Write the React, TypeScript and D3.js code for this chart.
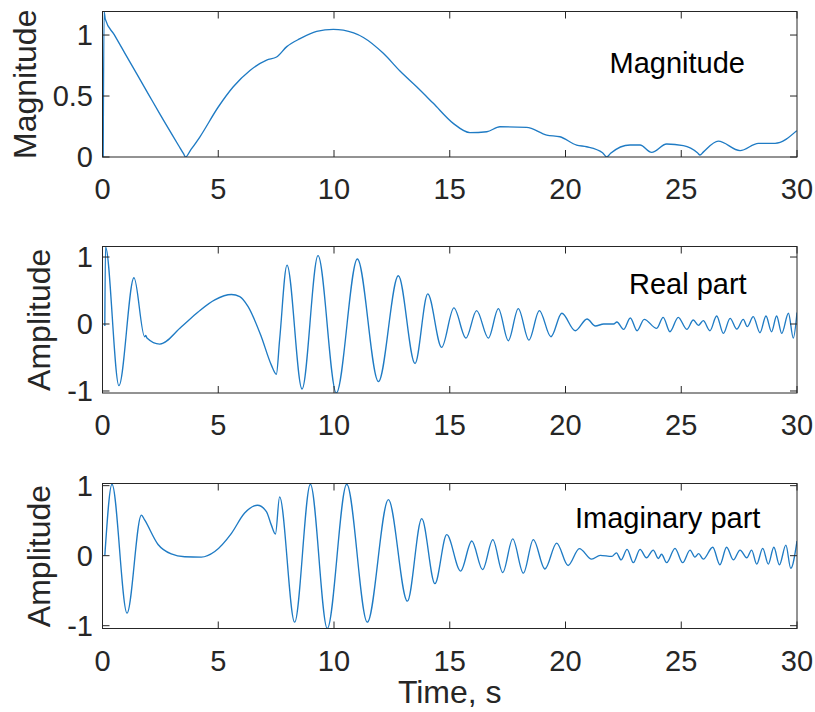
import React from "react";
import * as d3 from "d3";

// ---- Data ----
const timeTicks = [0, 5, 10, 15, 20, 25, 30];
const magnitudeTicks = [0, 0.5, 1];
const amplitudeTicks = [-1, 0, 1];

const magnitude: [number, number][] = [
  [0.03, 0], [0.07, 1.19], [0.12, 1.13], [0.5, 1.005], [1.0, 0.84], [2.0, 0.51], [2.5, 0.345],
  [3.3, 0.09], [3.5, 0.027], [3.59, 0.0], [3.8, 0.055], [4.21, 0.166], [5.0, 0.41], [5.65, 0.576],
  [6.37, 0.71], [7.09, 0.795], [7.52, 0.82], [7.96, 0.905], [8.53, 0.97], [9.25, 1.03], [9.97, 1.047],
  [10.4, 1.04], [11.27, 0.98], [12.13, 0.85], [12.85, 0.705], [13.57, 0.576], [14.29, 0.44],
  [15.15, 0.276], [15.87, 0.2], [16.6, 0.207], [17.17, 0.248], [18.32, 0.243], [19.19, 0.18],
  [19.76, 0.166], [20.48, 0.098], [20.91, 0.084], [21.6, 0.035], [21.78, 0.0], [21.95, 0.03],
  [22.79, 0.098], [23.22, 0.098], [23.72, 0.038], [24.37, 0.107], [25.09, 0.093], [25.7, 0.035],
  [25.81, 0.016], [25.95, 0.04], [26.6, 0.13], [27.54, 0.052], [28.33, 0.112], [29.05, 0.112],
  [29.99, 0.216],
];

const realPart: [number, number][] = [
  [0.1, -0.03], [0.13, 1.15], [0.71, -0.92], [1.36, 0.69], [1.82, -0.19], [1.87, -0.17], [1.92, -0.21],
  [2.47, -0.3], [3.41, -0.04], [4.13, 0.18], [4.85, 0.36], [5.57, 0.44], [5.93, 0.41], [6.29, 0.26],
  [6.86, -0.19], [7.29, -0.61], [7.51, -0.75], [7.65, -0.24], [7.97, 0.88], [8.62, -0.97], [9.31, 1.02],
  [10.1, -1.03], [11.01, 0.97], [11.92, -0.86], [12.78, 0.72], [13.5, -0.59], [14.05, 0.45],
  [14.65, -0.35], [15.18, 0.24], [15.7, -0.21], [16.16, 0.2], [16.67, -0.21], [17.1, 0.23],
  [17.53, -0.25], [17.96, 0.23], [18.42, -0.24], [18.87, 0.2], [19.37, -0.19], [19.84, 0.16],
  [20.42, -0.1], [20.93, 0.075], [21.29, -0.03], [21.65, 0.0], [22.08, 0.0], [22.22, 0.03],
  [22.51, -0.08], [22.8, 0.09], [23.09, -0.1], [23.4, 0.07], [23.94, -0.065], [24.22, 0.1],
  [24.51, -0.115], [24.87, 0.1], [25.24, -0.08], [25.52, 0.06], [25.74, -0.02], [25.95, 0.05],
  [26.24, -0.1], [26.53, 0.12], [26.82, -0.14], [27.11, 0.085], [27.4, -0.075], [27.68, 0.07],
  [27.85, -0.04], [28.11, 0.11], [28.4, -0.13], [28.66, 0.12], [28.9, -0.115], [29.12, 0.12],
  [29.34, -0.14], [29.63, 0.16], [29.84, -0.21], [30.0, 0.17],
];

const imagPart: [number, number][] = [
  [0.1, 0.0], [0.41, 1.02], [1.06, -0.82], [1.68, 0.58], [1.82, 0.51], [2.4, 0.16], [2.97, 0.025],
  [3.55, -0.015], [4.27, -0.02], [4.85, 0.06], [5.57, 0.32], [6.14, 0.61], [6.69, 0.72], [7.08, 0.63],
  [7.29, 0.44], [7.47, 0.31], [7.65, 0.84], [8.3, -0.95], [8.98, 1.02], [9.71, -1.04], [10.55, 1.02],
  [11.44, -0.95], [12.35, 0.8], [13.17, -0.65], [13.79, 0.53], [14.36, -0.4], [14.87, 0.3],
  [15.47, -0.22], [15.95, 0.21], [16.42, -0.2], [16.86, 0.23], [17.29, -0.24], [17.72, 0.24],
  [18.18, -0.25], [18.61, 0.23], [19.11, -0.19], [19.62, 0.18], [20.11, -0.14], [20.6, 0.1],
  [21.13, -0.05], [21.5, 0.005], [22.0, -0.01], [22.2, 0.04], [22.4, -0.06], [22.66, 0.09],
  [22.93, -0.1], [23.22, 0.09], [23.5, -0.03], [23.79, 0.08], [24.01, -0.04], [24.15, 0.02],
  [24.37, -0.1], [24.73, 0.105], [25.06, -0.1], [25.38, 0.08], [25.59, -0.02], [25.75, 0.03],
  [25.95, -0.05], [26.36, 0.12], [26.67, -0.13], [26.96, 0.12], [27.25, -0.06], [27.54, 0.08],
  [27.83, -0.03], [28.04, 0.08], [28.26, -0.12], [28.52, 0.105], [28.76, -0.12], [29.0, 0.12],
  [29.24, -0.13], [29.52, 0.15], [29.73, -0.18], [30.0, 0.21],
];

// ---- Layout / style ----
const W = 815;
const H = 712;
const FONT = "'Liberation Sans', Arial, Helvetica, sans-serif";
const AXIS = "#262626";
const LINE = "#1f7bc4";
const TICK_LEN = 7;

const x = d3.scaleLinear().domain([0, 30]).range([102.5, 797]);

type Panel = {
  id: string;
  data: [number, number][];
  top: number;
  bottom: number;
  domain: [number, number];
  ticks: number[];
  ylabel: string;
  ylabelX: number;
  note: string;
  noteX: number;
  noteY: number;
};

const panels: Panel[] = [
  { id: "mag", data: magnitude, top: 11.5, bottom: 157, domain: [0, 1.193], ticks: magnitudeTicks,
    ylabel: "Magnitude", ylabelX: 36, note: "Magnitude", noteX: 609.5, noteY: 72.5 },
  { id: "re", data: realPart, top: 246.5, bottom: 393, domain: [-1.03, 1.157], ticks: amplitudeTicks,
    ylabel: "Amplitude", ylabelX: 50, note: "Real part", noteX: 629, noteY: 294 },
  { id: "im", data: imagPart, top: 483.5, bottom: 628.5, domain: [-1.04, 1.031], ticks: amplitudeTicks,
    ylabel: "Amplitude", ylabelX: 50, note: "Imaginary part", noteX: 575, noteY: 527.5 },
];

function PanelView({ p }: { p: Panel }) {
  const y = d3.scaleLinear().domain(p.domain).range([p.bottom, p.top]);
  const [x0, x1] = x.range();
  const line = d3
    .line<[number, number]>()
    .x((d) => x(d[0]))
    .y((d) => y(d[1]))
    .curve(d3.curveMonotoneX);
  const clipId = `clip-${p.id}`;
  const cy = (p.top + p.bottom) / 2;
  return (
    <g>
      <defs>
        <clipPath id={clipId}>
          <rect x={x0} y={p.top} width={x1 - x0} height={p.bottom - p.top} />
        </clipPath>
      </defs>
      <rect x={x0} y={p.top} width={x1 - x0} height={p.bottom - p.top} fill="#fff" />
      <path d={line(p.data) || ""} fill="none" stroke={LINE} strokeWidth={1.35} clipPath={`url(#${clipId})`} />
      <rect x={x0} y={p.top} width={x1 - x0} height={p.bottom - p.top} fill="none" stroke={AXIS} strokeWidth={1} />
      {timeTicks.map((t) => (
        <g key={`xt${t}`}>
          <line x1={x(t)} x2={x(t)} y1={p.bottom} y2={p.bottom - TICK_LEN} stroke={AXIS} strokeWidth={1} />
          <line x1={x(t)} x2={x(t)} y1={p.top} y2={p.top + TICK_LEN} stroke={AXIS} strokeWidth={1} />
          <text x={x(t)} y={p.bottom + 42} textAnchor="middle" fontSize={29} fontFamily={FONT} fill={AXIS}>
            {String(t)}
          </text>
        </g>
      ))}
      {p.ticks.map((v) => (
        <g key={`yt${v}`}>
          <line x1={x0} x2={x0 + TICK_LEN} y1={y(v)} y2={y(v)} stroke={AXIS} strokeWidth={1} />
          <line x1={x1} x2={x1 - TICK_LEN} y1={y(v)} y2={y(v)} stroke={AXIS} strokeWidth={1} />
          <text x={93} y={y(v)} dy="0.35em" textAnchor="end" fontSize={29} fontFamily={FONT} fill={AXIS}>
            {String(v)}
          </text>
        </g>
      ))}
      <text
        transform={`translate(${p.ylabelX},${cy}) rotate(-90)`}
        textAnchor="middle"
        fontSize={32}
        fontFamily={FONT}
        fill={AXIS}
      >
        {p.ylabel}
      </text>
      <text x={p.noteX} y={p.noteY} fontSize={29} fontFamily={FONT} fill="#000">
        {p.note}
      </text>
    </g>
  );
}

export default function App() {
  const [x0, x1] = x.range();
  return (
    <svg
      width={W}
      height={H}
      viewBox={`0 0 ${W} ${H}`}
      style={{ position: "absolute", left: 0, top: 0, background: "#fff" }}
    >
      <rect x={0} y={0} width={W} height={H} fill="#fff" />
      {panels.map((p) => (
        <PanelView key={p.id} p={p} />
      ))}
      <text x={(x0 + x1) / 2} y={702.5} textAnchor="middle" fontSize={32} fontFamily={FONT} fill={AXIS}>
        Time, s
      </text>
    </svg>
  );
}
